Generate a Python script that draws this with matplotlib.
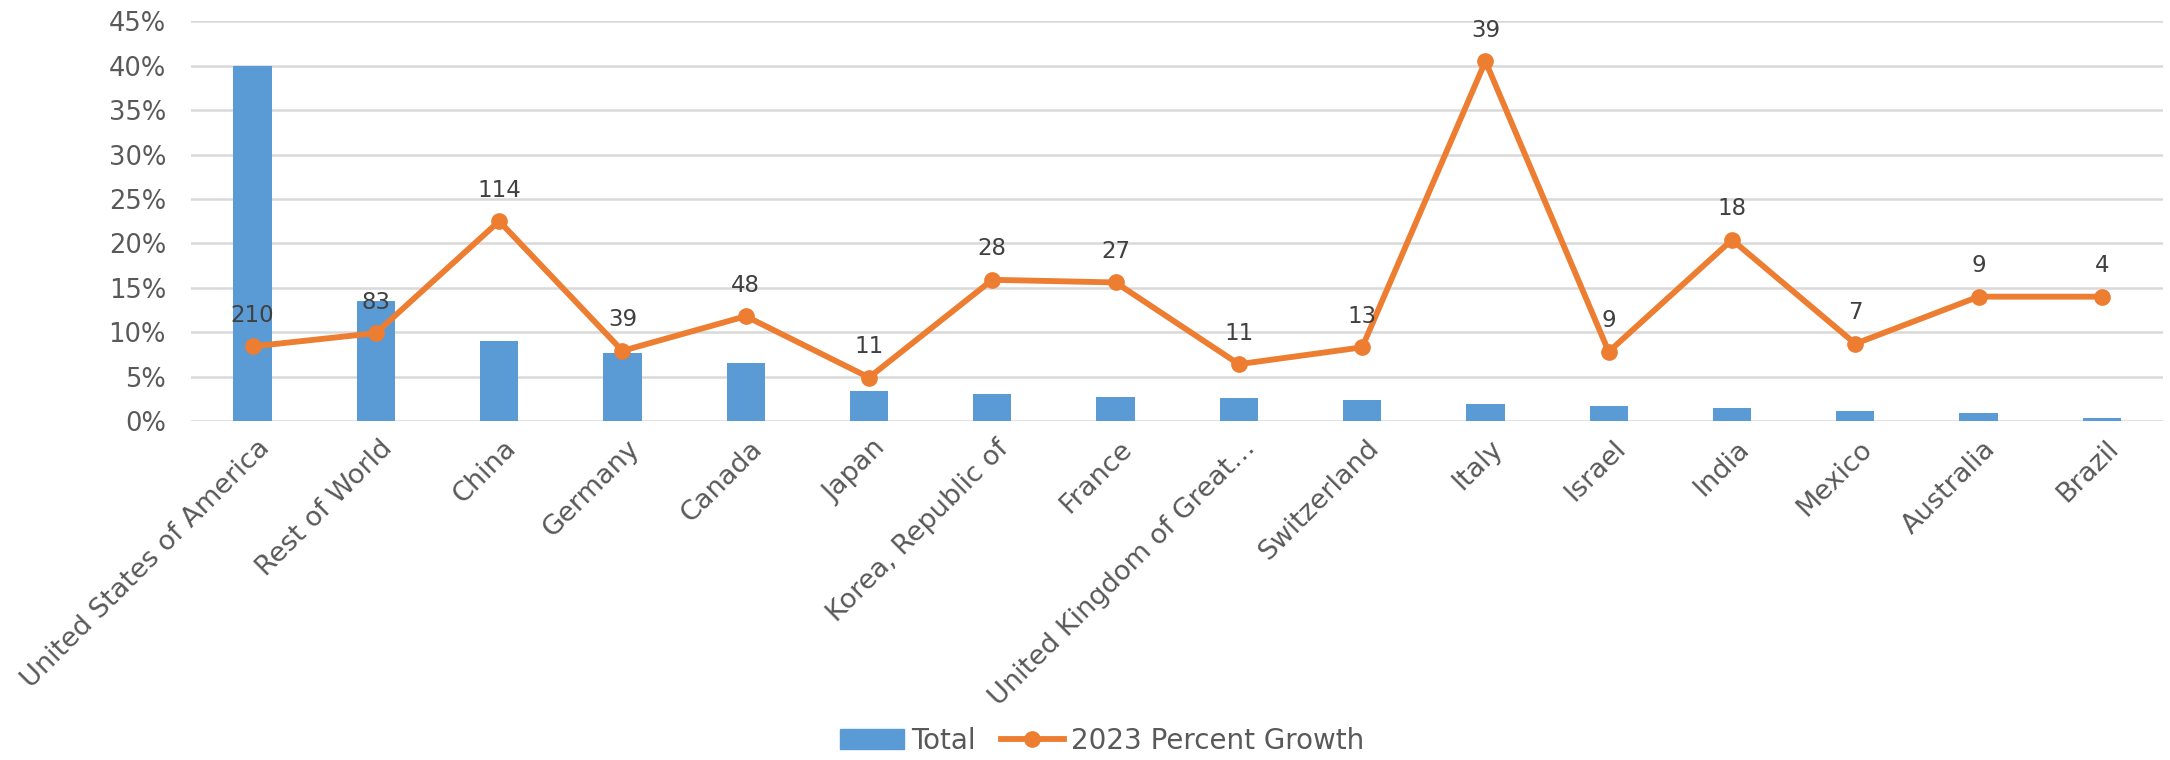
import matplotlib.pyplot as plt
import matplotlib.transforms as mtransforms
import numpy as np
from matplotlib.lines import Line2D
from matplotlib.patches import Patch
from matplotlib.ticker import PercentFormatter

countries = ["United States of America", "Rest of World", "China", "Germany", "Canada",
             "Japan", "Korea, Republic of", "France", "United Kingdom of Great…",
             "Switzerland", "Italy", "Israel", "India", "Mexico", "Australia", "Brazil"]
total = [0.400, 0.135, 0.090, 0.077, 0.065, 0.034, 0.030, 0.027, 0.026,
         0.024, 0.019, 0.017, 0.015, 0.011, 0.009, 0.003]
growth = [0.084, 0.099, 0.225, 0.079, 0.118, 0.049, 0.159, 0.156, 0.064,
          0.083, 0.405, 0.078, 0.204, 0.087, 0.140, 0.140]
growth_labels = ["210", "83", "114", "39", "48", "11", "28", "27", "11",
                 "13", "39", "9", "18", "7", "9", "4"]

BLUE = "#5B9BD5"
ORANGE = "#ED7D31"
GREY = "#595959"

plt.rcParams['font.family'] = ['DejaVu Sans']

fig = plt.figure(figsize=(21.7, 7.6), dpi=100)
ax = fig.add_axes([0.088, 0.446, 0.909, 0.526])

x = np.arange(len(countries))
ax.bar(x, total, width=0.31, color=BLUE, zorder=2)
ax.plot(x, growth, color=ORANGE, lw=4.2, marker='o', markersize=11, zorder=3)

for xi, v, lab in zip(x, growth, growth_labels):
    ax.annotate(lab, (xi, v), xytext=(0, 31), textcoords='offset pixels',
                ha='center', va='center', fontsize=16.5, color='#404040')

ax.set_xlim(-0.5, len(countries) - 0.5)
ax.set_ylim(0, 0.45)
ax.set_yticks(np.arange(0, 0.451, 0.05))
ax.yaxis.set_major_formatter(PercentFormatter(1.0, decimals=0))
ax.grid(axis='y', color='#D9D9D9', lw=1.8, zorder=0)
ax.set_axisbelow(True)
for s in ax.spines.values():
    s.set_visible(False)
ax.tick_params(axis='y', length=0, labelsize=18.5, colors=GREY, pad=18)

ax.set_xticks(x)
ax.set_xticklabels(countries, rotation=45, ha='right', va='center',
                   rotation_mode='anchor', fontsize=19.5, color=GREY)
ax.tick_params(axis='x', length=0, pad=17)
shift = mtransforms.ScaledTranslation(0.13, 0, fig.dpi_scale_trans)
for lbl in ax.get_xticklabels():
    lbl.set_transform(lbl.get_transform() + shift)

handles = [Patch(color=BLUE, label='Total'),
           Line2D([], [], color=ORANGE, lw=4.2, marker='o', markersize=11,
                  label='2023 Percent Growth')]
fig.legend(handles=handles, loc='lower center', bbox_to_anchor=(0.508, -0.026),
           ncol=2, frameon=False, fontsize=20, labelcolor=GREY,
           handlelength=2.3, handletextpad=0.25, columnspacing=0.9)

fig.savefig("out.png", dpi=100)
